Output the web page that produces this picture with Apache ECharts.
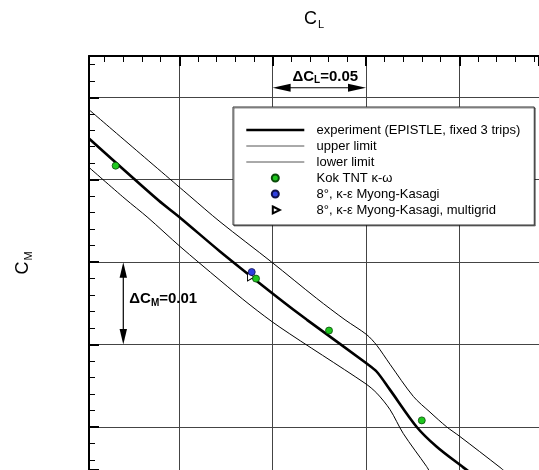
<!DOCTYPE html>
<html><head><meta charset="utf-8">
<script src="https://cdn.jsdelivr.net/npm/echarts@6/dist/echarts.min.js"></script>
<style>html,body{margin:0;padding:0;background:#fff}#c{width:539px;height:470px}</style>
</head><body><div id="c"></div>
<script>
// axis extents (C_L horizontal, C_M vertical)
const xRange = [0.20163, 0.44269];
const yRange = [-0.08522, -0.03499];

// series names
const seriesNames = [
  'experiment (EPISTLE, fixed 3 trips)',
  'upper limit',
  'lower limit',
  'Kok TNT \u03ba-\u03c9',
  '8\u00b0, \u03ba-\u03b5 Myong-Kasagi',
  '8\u00b0, \u03ba-\u03b5 Myong-Kasagi, multigrid'
];

// [C_L, C_M]
const experiment = [
  [0.2016,-0.0450],[0.2388,-0.0525],[0.2509,-0.0547],[0.2718,-0.0587],
  [0.3039,-0.0645],[0.3184,-0.0670],[0.3504,-0.0723],[0.3558,-0.0733],
  [0.3629,-0.0755],[0.3772,-0.0800],[0.3879,-0.0824],[0.4021,-0.0849],
  [0.4057,-0.0855]
];
const upperLimit = [
  [0.2016,-0.0415],[0.2557,-0.0520],[0.2718,-0.0551],[0.2995,-0.0600],
  [0.3236,-0.0644],[0.3388,-0.0670],[0.3504,-0.0688],[0.3558,-0.0701],
  [0.3629,-0.0724],[0.3754,-0.0763],[0.3843,-0.0782],[0.3933,-0.0800],
  [0.4000,-0.0811],[0.4218,-0.0849],[0.4239,-0.0853]
];
const lowerLimit = [
  [0.2016,-0.0485],[0.2209,-0.0523],[0.2332,-0.0546],[0.2504,-0.0581],
  [0.2718,-0.0622],[0.2879,-0.0652],[0.3039,-0.0679],[0.3495,-0.0747],
  [0.3558,-0.0759],[0.3629,-0.0779],[0.3700,-0.0808],[0.3825,-0.0848],
  [0.3838,-0.0853]
];
const kokTNT = [[0.2159,-0.0483],[0.2911,-0.0620],[0.3302,-0.0683],[0.3799,-0.0792]];
const myongKasagi = [[0.2888,-0.0612]];
const myongKasagiMultigrid = [[0.2884,-0.0618]];

// annotation arrows
const deltaCL = {from: 0.30, to: 0.35, at: -0.03884, text: '0.05'};
const deltaCM = {from: -0.06, to: -0.07, at: 0.22, text: '0.01'};

const FONT = 'Liberation Sans, Arial, Helvetica, sans-serif';

const chart = echarts.init(document.getElementById('c'), null, {renderer: 'canvas'});

const axisCommon = {
  type: 'value',
  splitNumber: 5,
  axisLine: {show: true, onZero: false, lineStyle: {color: '#000', width: 2}},
  axisTick: {show: true, inside: true, length: 10, lineStyle: {color: '#000', width: 2}},
  minorTick: {show: true, splitNumber: 5, length: 6, lineStyle: {color: '#000', width: 1}},
  splitLine: {show: true, lineStyle: {color: '#444', width: 1}},
  axisLabel: {show: false},
  nameLocation: 'middle',
  nameTextStyle: {
    rich: {
      c: {fontSize: 18, fontFamily: FONT, color: '#000', lineHeight: 22},
      s: {fontSize: 11, fontFamily: FONT, color: '#000', lineHeight: 11, verticalAlign: 'bottom', padding: [0, 0, 0, 1]}
    }
  }
};

const hiddenSymbol = {color: 'rgba(0,0,0,0)', borderColor: 'rgba(0,0,0,0)', borderWidth: 0};

const option = {
  animation: false,
  backgroundColor: '#fff',
  grid: {left: 89, top: 56, right: 0, bottom: 0, containLabel: false},
  xAxis: Object.assign({}, axisCommon, {
    position: 'top', min: xRange[0], max: xRange[1],
    name: '{c|C}{s|L}', nameGap: 26
  }),
  yAxis: Object.assign({}, axisCommon, {
    position: 'left', min: yRange[0], max: yRange[1],
    name: '{c|C}{s|M}', nameGap: 55, nameRotate: 90
  }),
  legend: {
    orient: 'vertical', left: 233, top: 107,
    padding: [16, 14, 8, 12],
    itemWidth: 58, itemHeight: 7, itemGap: 2,
    selectedMode: false,
    backgroundColor: '#fff', borderColor: '#333', borderWidth: 1,
    shadowColor: 'rgba(0,0,0,0.45)', shadowOffsetX: 1, shadowOffsetY: 1, shadowBlur: 0,
    textStyle: {fontSize: 13, lineHeight: 14, fontFamily: FONT, color: '#000'},
    formatter: n => '  ' + n,
    data: [
      {name: seriesNames[0], itemStyle: hiddenSymbol, lineStyle: {color: '#000', width: 2.6}},
      {name: seriesNames[1], itemStyle: hiddenSymbol, lineStyle: {color: '#555', width: 1}},
      {name: seriesNames[2], itemStyle: hiddenSymbol, lineStyle: {color: '#555', width: 1}},
      {name: seriesNames[3]},
      {name: seriesNames[4]},
      {name: seriesNames[5], icon: 'path://M0 0M58 7M26.5 0L33.5 3.5L26.5 7Z'}
    ]
  },
  series: [
    {name: seriesNames[0], type: 'line', data: experiment, symbol: 'none', showSymbol: false, smooth: 0.3,
     lineStyle: {color: '#000', width: 2.6}, itemStyle: {color: '#000'}, z: 3},
    {name: seriesNames[1], type: 'line', data: upperLimit, symbol: 'none', showSymbol: false, smooth: 0.3,
     lineStyle: {color: '#000', width: 1}, itemStyle: {color: '#000'}, z: 3},
    {name: seriesNames[2], type: 'line', data: lowerLimit, symbol: 'none', showSymbol: false, smooth: 0.3,
     lineStyle: {color: '#000', width: 1}, itemStyle: {color: '#000'}, z: 3},
    {name: seriesNames[5], type: 'scatter', data: myongKasagiMultigrid,
     symbol: 'path://M0 0L10 6L0 12Z', symbolSize: [7, 8],
     itemStyle: {color: '#fff', borderColor: '#000', borderWidth: 1, opacity: 1}, z: 4},
    {name: seriesNames[4], type: 'scatter', data: myongKasagi, symbol: 'circle', symbolSize: 7,
     itemStyle: {color: '#2f3fe0', borderColor: '#10104a', borderWidth: 0.8, opacity: 1}, z: 4},
    {name: seriesNames[3], type: 'scatter', data: kokTNT, symbol: 'circle', symbolSize: 7,
     itemStyle: {color: '#1fc81f', borderColor: '#0a4a0a', borderWidth: 0.8, opacity: 1}, z: 4}
  ]
};

chart.setOption(option);

const px = (x, y) => chart.convertToPixel({xAxisIndex: 0, yAxisIndex: 0}, [x, y]);

function arrowParts(a, b, len, hw) {
  const dx = b[0] - a[0], dy = b[1] - a[1];
  const L = Math.hypot(dx, dy), ux = dx / L, uy = dy / L, nx = -uy, ny = ux;
  const head = (t, s) => [[t[0], t[1]],
    [t[0] + s * ux * len + nx * hw, t[1] + s * uy * len + ny * hw],
    [t[0] + s * ux * len - nx * hw, t[1] + s * uy * len - ny * hw]];
  return [
    {type: 'line', silent: true, z: 10,
     shape: {x1: a[0] + ux * len * 0.5, y1: a[1] + uy * len * 0.5, x2: b[0] - ux * len * 0.5, y2: b[1] - uy * len * 0.5},
     style: {stroke: '#000', lineWidth: 1.2}},
    {type: 'polygon', silent: true, z: 10, shape: {points: head(a, 1)}, style: {fill: '#000'}},
    {type: 'polygon', silent: true, z: 10, shape: {points: head(b, -1)}, style: {fill: '#000'}}
  ];
}

const richDelta = {
  a: {fontSize: 15, fontWeight: 'bold', fontFamily: FONT, color: '#000', lineHeight: 18},
  s: {fontSize: 10, fontWeight: 'bold', fontFamily: FONT, color: '#000', lineHeight: 10, verticalAlign: 'bottom'}
};

const cl1 = px(deltaCL.from, deltaCL.at), cl2 = px(deltaCL.to, deltaCL.at);
const cm1 = px(deltaCM.at, deltaCM.from), cm2 = px(deltaCM.at, deltaCM.to);

const graphics = []
  .concat(arrowParts(cl1, cl2, 18, 3.9))
  .concat(arrowParts(cm1, cm2, 15.5, 3.7))
  .concat([
    {type: 'text', silent: true, z: 10, x: (cl1[0] + cl2[0]) / 2 + 6, y: cl1[1] - 11,
     style: {text: '{a|\u0394C}{s|L}{a|=' + deltaCL.text + '}', rich: richDelta,
             align: 'center', verticalAlign: 'middle', textAlign: 'center', textVerticalAlign: 'middle'}},
    {type: 'text', silent: true, z: 10, x: cm1[0] + 6, y: (cm1[1] + cm2[1]) / 2 - 4.5,
     style: {text: '{a|\u0394C}{s|M}{a|=' + deltaCM.text + '}', rich: richDelta,
             align: 'left', verticalAlign: 'middle', textAlign: 'left', textVerticalAlign: 'middle'}}
  ]);

chart.setOption({graphic: graphics});
</script></body></html>
